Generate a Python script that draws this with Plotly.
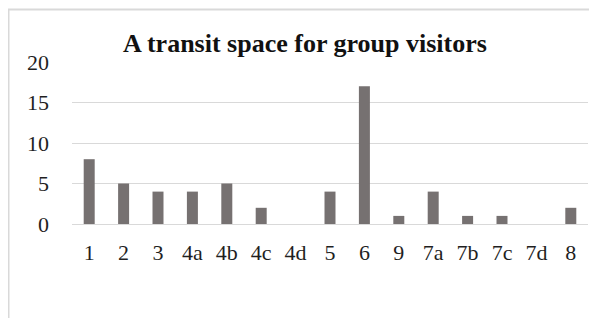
import plotly.graph_objects as go

categories = ["1", "2", "3", "4a", "4b", "4c", "4d", "5", "6", "9", "7a", "7b", "7c", "7d", "8"]
values = [8, 5, 4, 4, 5, 2, 0, 4, 17, 1, 4, 1, 1, 0, 2]
y_ticks = [0, 5, 10, 15, 20]

W, H = 597, 318
OFF = 8  # page body offset
L, R, T, B = 72 - OFF, 17, 62 - OFF, 102
pw, ph = W - L - R, H - T - B

def px_to_paper_x(px):
    return (px - OFF - L) / pw

def px_to_paper_y(py):
    return (H - B - (py - OFF)) / ph

fig = go.Figure(go.Bar(x=categories, y=values, marker=dict(color="#767171", line=dict(width=0))))

fig.update_layout(
    width=W, height=H,
    margin=dict(l=L, r=R, t=T, b=B),
    paper_bgcolor="white", plot_bgcolor="white",
    bargap=0.68,
    showlegend=False,
    title=dict(
        text="<b>A transit space for group visitors</b>",
        x=(305 - OFF) / W, xref="container", xanchor="center",
        y=1 - (43 - OFF) / H, yref="container", yanchor="middle",
        font=dict(family="Liberation Serif", size=26, color="#111111"),
    ),
    font=dict(family="Liberation Serif", size=22, color="#1f1f1f"),
    xaxis=dict(
        type="category", showgrid=False, showline=False, ticks="",
        tickfont=dict(size=22, family="Liberation Serif", color="#1f1f1f"),
        ticklabelstandoff=13,
    ),
    yaxis=dict(
        range=[0, 20], tickvals=y_ticks, showgrid=True, gridcolor="#d9d9d9", gridwidth=1,
        zeroline=True, zerolinecolor="#d9d9d9", zerolinewidth=1, showline=False, ticks="",
        tickfont=dict(size=22, family="Liberation Serif", color="#1f1f1f"),
        ticklabelstandoff=22,
    ),
    shapes=[dict(
        type="rect", xref="paper", yref="paper",
        x0=px_to_paper_x(8.5), x1=px_to_paper_x(640),
        y0=px_to_paper_y(360), y1=px_to_paper_y(9.5),
        line=dict(color="#d9d9d9", width=2), fillcolor="rgba(0,0,0,0)", layer="below",
    )],
)

fig.write_html("out.html")
